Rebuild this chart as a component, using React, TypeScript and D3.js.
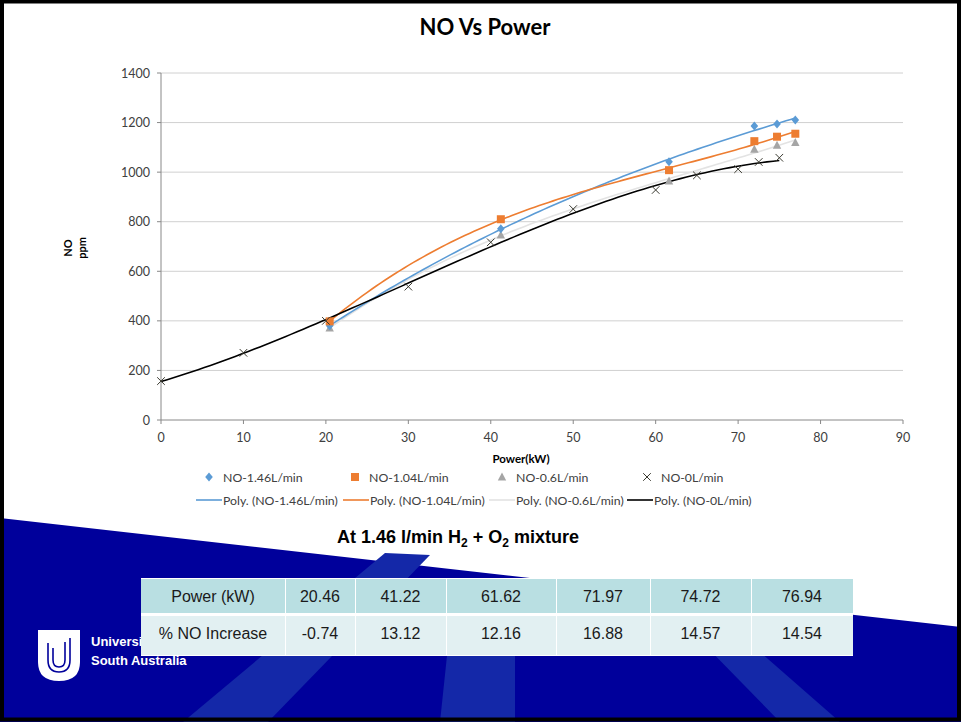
import React from "react";
import * as d3 from "d3";

const W = 961;
const H = 722;
const plot = { left: 161, right: 903, top: 73, bottom: 420 };

// measured power (kW) for the hydrogen runs
const powerH2 = [20.46, 41.22, 61.62, 71.97, 74.72, 76.94];
const no146 = [380, 772, 1042, 1186, 1194, 1210];
const no104 = [398, 810, 1008, 1125, 1143, 1155];
const no06 = [371, 746, 964, 1092, 1108, 1120];
// baseline run without hydrogen
const power0 = [0, 10, 20, 30, 40, 50, 60, 65, 70, 72.5, 75];
const no0 = [157, 271, 400, 538, 717, 851, 928, 987, 1012, 1041, 1058];

const xTicks = [0, 10, 20, 30, 40, 50, 60, 70, 80, 90];
const yTicks = [0, 200, 400, 600, 800, 1000, 1200, 1400];

const tableHead = ["Power (kW)", "20.46", "41.22", "61.62", "71.97", "74.72", "76.94"];
const tableRow = ["% NO Increase", "-0.74", "13.12", "12.16", "16.88", "14.57", "14.54"];

interface Series {
  name: string;
  xs: number[];
  ys: number[];
  color: string;
  lineColor: string;
  marker: "diamond" | "square" | "triangle" | "x";
  degree: number;
}

const series: Series[] = [
  { name: "NO-1.46L/min", xs: powerH2, ys: no146, color: "#5b9bd5", lineColor: "#5b9bd5", marker: "diamond", degree: 3 },
  { name: "NO-1.04L/min", xs: powerH2, ys: no104, color: "#ed7d31", lineColor: "#ed7d31", marker: "square", degree: 3 },
  { name: "NO-0.6L/min", xs: powerH2, ys: no06, color: "#a5a5a5", lineColor: "#e3e3e3", marker: "triangle", degree: 3 },
  { name: "NO-0L/min", xs: power0, ys: no0, color: "#3a3a30", lineColor: "#000000", marker: "x", degree: 3 },
];

// least squares polynomial, same as an excel "Poly." trendline
const polyFit = (xs: number[], ys: number[], deg: number): number[] => {
  const n = deg + 1;
  const A: number[][] = [];
  for (let i = 0; i < n; i++) {
    A.push([]);
    for (let j = 0; j <= n; j++) A[i].push(0);
  }
  xs.forEach((x, k) => {
    for (let i = 0; i < n; i++) {
      for (let j = 0; j < n; j++) A[i][j] += Math.pow(x, i + j);
      A[i][n] += Math.pow(x, i) * ys[k];
    }
  });
  for (let c = 0; c < n; c++) {
    let p = c;
    for (let r = c + 1; r < n; r++) if (Math.abs(A[r][c]) > Math.abs(A[p][c])) p = r;
    [A[c], A[p]] = [A[p], A[c]];
    for (let r = 0; r < n; r++) {
      if (r === c) continue;
      const f = A[r][c] / A[c][c];
      for (let j = c; j <= n; j++) A[r][j] -= f * A[c][j];
    }
  }
  return A.map((row, i) => row[n] / A[i][i]);
};

const x = d3.scaleLinear().domain([0, 90]).range([plot.left, plot.right]);
const y = d3.scaleLinear().domain([0, 1400]).range([plot.bottom, plot.top]);

const Marker = ({ kind, cx, cy, color }: { kind: string; cx: number; cy: number; color: string }) => {
  if (kind === "diamond")
    return <path d={`M${cx},${cy - 4.5}L${cx + 3.8},${cy}L${cx},${cy + 4.5}L${cx - 3.8},${cy}Z`} fill={color} />;
  if (kind === "square") return <rect x={cx - 4} y={cy - 4} width={8} height={8} fill={color} />;
  if (kind === "triangle")
    return <path d={`M${cx},${cy - 4.5}L${cx + 4.2},${cy + 3.5}L${cx - 4.2},${cy + 3.5}Z`} fill={color} />;
  return (
    <path
      d={`M${cx - 3.8},${cy - 3.8}L${cx + 3.8},${cy + 3.8}M${cx + 3.8},${cy - 3.8}L${cx - 3.8},${cy + 3.8}`}
      stroke={color}
      strokeWidth={1}
      fill="none"
    />
  );
};

const chartFont = "Lato, 'Open Sans', sans-serif";

const Chart = () => {
  const trend = (s: Series) => {
    const c = polyFit(s.xs, s.ys, s.degree);
    const [a, b] = d3.extent(s.xs) as [number, number];
    const pts = d3.range(0, 101).map((i) => {
      const xv = a + ((b - a) * i) / 100;
      return [xv, c.reduce((acc, k, p) => acc + k * Math.pow(xv, p), 0)] as [number, number];
    });
    return d3
      .line<[number, number]>()
      .x((d) => x(d[0]))
      .y((d) => y(d[1]))
      .curve(d3.curveLinear)(pts) as string;
  };
  const drawOrder = [2, 0, 1, 3];
  const legendRow1 = [209, 355, 502, 647];
  const legendRow2 = [196, 343, 489, 627];
  return (
    <g fontFamily={chartFont}>
      <text x={485} y={35} textAnchor="middle" fontSize={22} fontWeight="bold" fill="#000">
        NO Vs Power
      </text>
      {yTicks.map((t) => (
        <g key={t}>
          {t > 0 && <line x1={plot.left} x2={plot.right} y1={y(t)} y2={y(t)} stroke="#d0d0d0" strokeWidth={1} />}
          <line x1={plot.left - 4} x2={plot.left} y1={y(t)} y2={y(t)} stroke="#888" />
          <text x={150} y={y(t) + 4.5} textAnchor="end" fontSize={12.5} fill="#404040">
            {t}
          </text>
        </g>
      ))}
      <line x1={plot.left} x2={plot.left} y1={plot.top} y2={plot.bottom} stroke="#888" />
      <line x1={plot.left} x2={plot.right} y1={plot.bottom} y2={plot.bottom} stroke="#888" />
      {xTicks.map((t) => (
        <g key={t}>
          <line x1={x(t)} x2={x(t)} y1={plot.bottom} y2={plot.bottom + 4} stroke="#888" />
          <text x={x(t)} y={442} textAnchor="middle" fontSize={12.5} fill="#404040">
            {t}
          </text>
        </g>
      ))}
      <text x={521} y={463} textAnchor="middle" fontSize={11.5} fontWeight="bold">
        Power(kW)
      </text>
      <text transform="translate(72,248) rotate(-90)" textAnchor="middle" fontSize={11} fontWeight="bold">
        NO
      </text>
      <text transform="translate(86,248) rotate(-90)" textAnchor="middle" fontSize={11} fontWeight="bold">
        ppm
      </text>
      {drawOrder.map((i) => {
        const s = series[i];
        return (
          <g key={s.name}>
            <path d={trend(s)} fill="none" stroke={s.lineColor} strokeWidth={1.6} />
          </g>
        );
      })}
      {drawOrder.map((i) => {
        const s = series[i];
        return (
          <g key={s.name + "m"}>
            {s.xs.map((xv, k) => (
              <Marker key={k} kind={s.marker} cx={x(xv)} cy={y(s.ys[k])} color={s.color} />
            ))}
          </g>
        );
      })}
      {series.map((s, i) => (
        <g key={s.name + "l"}>
          <Marker kind={s.marker} cx={legendRow1[i]} cy={477} color={s.color} />
          <text x={legendRow1[i] + 14} y={481.5} fontSize={12.3} fill="#404040">
            {s.name}
          </text>
          <line x1={legendRow2[i]} x2={legendRow2[i] + 26} y1={500} y2={500} stroke={s.lineColor} strokeWidth={1.6} />
          <text x={legendRow2[i] + 27} y={504.5} fontSize={12.3} fill="#404040">
            {`Poly. (${s.name})`}
          </text>
        </g>
      ))}
    </g>
  );
};

const colEdges = [141, 285, 355, 446, 556, 650, 751, 853];

const Table = () => (
  <g fontFamily="'Liberation Sans', Arial, sans-serif" fontSize={16} fill="#1a1a1a">
    <rect x={colEdges[0]} y={578} width={colEdges[7] - colEdges[0]} height={78} fill="#ffffff" />
    {tableHead.map((t, i) => (
      <g key={"h" + i}>
        <rect
          x={colEdges[i] + (i ? 1 : 0)}
          y={579}
          width={colEdges[i + 1] - colEdges[i] - (i ? 1 : 0)}
          height={34}
          fill="#b9dfe2"
        />
        <text x={(colEdges[i] + colEdges[i + 1]) / 2} y={601.5} textAnchor="middle">
          {t}
        </text>
      </g>
    ))}
    {tableRow.map((t, i) => (
      <g key={"r" + i}>
        <rect
          x={colEdges[i] + (i ? 1 : 0)}
          y={616}
          width={colEdges[i + 1] - colEdges[i] - (i ? 1 : 0)}
          height={39}
          fill="#e2f0f2"
        />
        <text x={(colEdges[i] + colEdges[i + 1]) / 2} y={638.5} textAnchor="middle">
          {t}
        </text>
      </g>
    ))}
  </g>
);

const Slide = () => (
  <g>
    <rect x={0} y={0} width={W} height={H} fill="#ffffff" />
    <path d={`M0,518L${W},627L${W},${H}L0,${H}Z`} fill="#00009b" />
    {/* lighter decorative bands */}
    <path d="M183,722L268,722L430,555L385,553Z" fill="#1428a8" />
    <path d="M440,722L515,722L515,600L455,580Z" fill="#1428a8" />
    <path d="M700,640L760,652L840,722L780,722Z" fill="#1428a8" />
    {/* logo */}
    <path d="M38,630L80,630L80,662Q80,681 59,681Q38,681 38,662Z" fill="#ffffff" />
    <path d="M48,643L48,660Q48,672 59,672Q70,672 70,660L70,638" fill="none" stroke="#00009b" strokeWidth={1.6} />
    <path d="M53,648L53,660Q53,667 59,667Q65,667 65,660L65,642" fill="none" stroke="#00009b" strokeWidth={1.6} />
    <text x={91} y={646} fill="#ffffff" fontFamily="'Liberation Sans', Arial, sans-serif" fontWeight="bold" fontSize={13}>
      University of
    </text>
    <text x={91} y={665} fill="#ffffff" fontFamily="'Liberation Sans', Arial, sans-serif" fontWeight="bold" fontSize={13}>
      South Australia
    </text>
    <text
      x={458}
      y={543}
      textAnchor="middle"
      fontFamily="'Liberation Sans', Arial, sans-serif"
      fontWeight="bold"
      fontSize={18}
      fill="#000"
    >
      At 1.46 l/min H
      <tspan fontSize={12} dy={4}>2</tspan>
      <tspan dy={-4}> + O</tspan>
      <tspan fontSize={12} dy={4}>2</tspan>
      <tspan dy={-4}> mixture</tspan>
    </text>
  </g>
);

export default function App() {
  return (
    <svg width={W} height={H} style={{ position: "absolute", left: 0, top: 0 }}>
      <Slide />
      <Chart />
      <Table />
      <rect x={2} y={1.5} width={W - 4} height={H - 4} fill="none" stroke="#000" strokeWidth={4} />
    </svg>
  );
}
